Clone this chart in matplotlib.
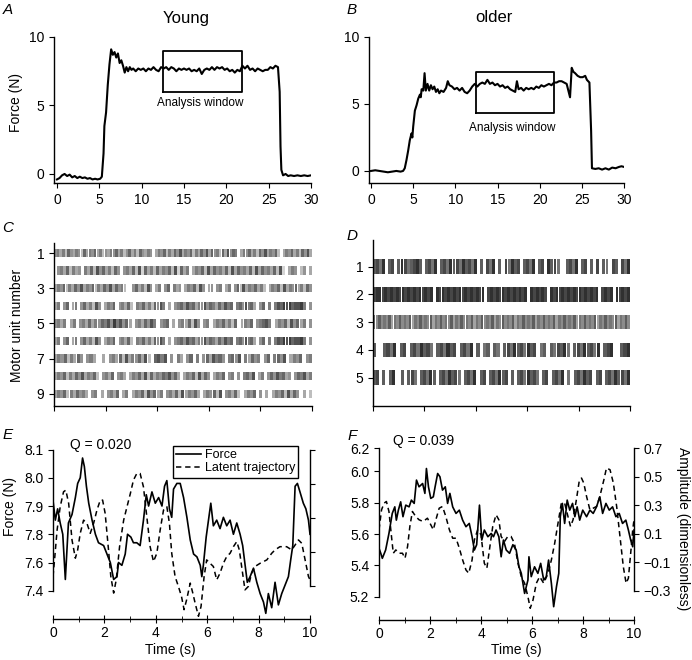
import matplotlib
matplotlib.use('Agg')
import matplotlib.pyplot as plt

plt.rcParams['font.family'] = ['Liberation Sans', 'DejaVu Sans']
plt.rcParams['font.size'] = 10
plt.rcParams['axes.linewidth'] = 1.0
plt.rcParams['xtick.major.size'] = 3.5
plt.rcParams['ytick.major.size'] = 3.5

W, H = 692, 660

# ---- data: panel A (young, whole contraction) ----
young_t = [0, 0.3, 0.6, 0.9, 1.2, 1.5, 1.8, 2.1, 2.4, 2.7, 3.0, 3.3, 3.6, 3.9, 4.2, 4.5, 4.8, 5.1,
           5.3, 5.5, 5.6, 5.8, 6.0, 6.2, 6.4, 6.6, 6.8, 7.0, 7.2, 7.4, 7.6, 7.8, 8.0, 8.2, 8.4, 8.6,
           8.8, 9.0, 9.3, 9.6, 9.9, 10.2, 10.5, 10.8, 11.1, 11.4, 11.7, 12.0, 12.3, 12.6, 12.9, 13.2,
           13.5, 13.8, 14.1, 14.4, 14.7, 15.0, 15.3, 15.6, 15.9, 16.2, 16.5, 16.8, 17.1, 17.4, 17.7,
           18.0, 18.3, 18.6, 18.9, 19.2, 19.5, 19.8, 20.1, 20.4, 20.7, 21.0, 21.3, 21.6, 21.9, 22.2,
           22.5, 22.8, 23.1, 23.4, 23.7, 24.0, 24.3, 24.6, 24.9, 25.2, 25.5, 25.8, 26.1, 26.3, 26.4,
           26.5, 26.7, 27.0, 27.3, 27.6, 28.0, 28.4, 28.8, 29.2, 29.6, 30.0]
young_f = [-0.4, -0.3, -0.1, 0.0, -0.15, -0.05, -0.25, -0.15, -0.3, -0.2, -0.3, -0.25, -0.35, -0.3,
           -0.4, -0.35, -0.4, -0.35, -0.2, 1.5, 3.5, 4.5, 6.5, 8.0, 9.1, 8.7, 8.9, 8.5, 8.8, 8.1, 8.3,
           7.9, 7.4, 7.8, 7.5, 7.8, 7.6, 7.7, 7.5, 7.7, 7.6, 7.7, 7.5, 7.7, 7.6, 7.8, 7.6, 7.5, 7.8,
           7.7, 7.8, 7.6, 7.8, 7.7, 7.5, 7.7, 7.6, 7.7, 7.6, 7.7, 7.5, 7.6, 7.5, 7.7, 7.3, 7.6, 7.7,
           7.6, 7.8, 7.6, 7.8, 7.7, 7.8, 7.6, 7.7, 7.5, 7.6, 7.4, 7.6, 7.5, 7.9, 7.7, 7.9, 7.6, 7.7,
           7.5, 7.7, 7.6, 7.5, 7.6, 7.6, 7.8, 7.7, 7.9, 7.8, 6.0, 2.0, 0.3, -0.1, 0.0, -0.15, -0.1,
           -0.15, -0.1, -0.15, -0.1, -0.15, -0.1]

# ---- data: panel B (older, whole contraction) ----
older_t = [0, 0.5, 1.0, 1.5, 2.0, 2.5, 3.0, 3.5, 3.8, 4.0, 4.2, 4.4, 4.6, 4.8, 4.9, 5.0, 5.2, 5.4,
           5.6, 5.8, 5.9, 6.0, 6.2, 6.35, 6.5, 6.7, 6.9, 7.1, 7.3, 7.5, 7.7, 7.9, 8.1, 8.3, 8.6, 8.9,
           9.1, 9.3, 9.6, 9.9, 10.2, 10.5, 10.8, 11.1, 11.4, 11.7, 12.0, 12.3, 12.6, 12.9, 13.2, 13.5,
           13.8, 14.1, 14.4, 14.7, 15.0, 15.3, 15.6, 15.9, 16.2, 16.5, 16.8, 17.1, 17.3, 17.5, 17.8,
           18.1, 18.4, 18.7, 19.0, 19.3, 19.6, 19.9, 20.2, 20.5, 20.8, 21.1, 21.4, 21.7, 22.0, 22.3,
           22.6, 22.9, 23.2, 23.6, 23.8, 24.0, 24.2, 24.5, 24.8, 25.1, 25.4, 25.6, 25.9, 26.1, 26.2,
           26.6, 27.0, 27.4, 27.8, 28.2, 28.6, 29.0, 29.4, 29.7, 30.0]
older_f = [0.0, 0.05, 0.0, -0.05, -0.1, -0.05, 0.0, -0.05, 0.0, 0.2, 0.8, 1.5, 2.3, 2.8, 2.5, 3.3,
           4.5, 4.9, 5.4, 5.7, 5.5, 6.1, 6.0, 7.3, 6.0, 6.5, 6.0, 6.4, 6.1, 6.3, 5.9, 6.1, 5.8, 6.0,
           5.9, 6.2, 6.7, 6.4, 6.3, 6.1, 6.2, 6.0, 6.2, 5.9, 5.8, 6.0, 6.3, 6.5, 6.3, 6.5, 6.6, 6.5,
           6.8, 6.5, 6.6, 6.4, 6.5, 6.3, 6.4, 6.2, 6.3, 6.1, 6.0, 5.9, 6.7, 6.1, 6.2, 6.0, 6.2, 6.1,
           6.2, 6.1, 6.3, 6.2, 6.4, 6.3, 6.4, 6.5, 6.4, 6.6, 6.6, 6.7, 6.7, 6.6, 6.5, 5.5, 7.7, 7.4,
           7.3, 7.1, 7.0, 7.0, 7.1, 6.8, 6.6, 3.0, 0.2, 0.15, 0.2, 0.1, 0.2, 0.1, 0.25, 0.2, 0.3,
           0.35, 0.3]

# analysis windows (t0, t1, f0, f1) and label positions
young_window = (12.5, 21.9, 6.0, 9.0)
older_window = (12.4, 21.7, 4.3, 7.35)
young_label = (16.9, 5.2)
older_label = (16.7, 3.2)

# ---- data: panels C and D, motor-unit discharge rasters ----
# one string per unit, each char a time bin: 0 = no discharge, 1-9 = grey density
young_units = [
    "5646375465374657463546574635746375465" "0" "4657364758465736475847563748576" "0" "465746375846573" "0" "46574637584",
    "0" "56473645" "0" "647385746375" "0" "5647382746374657382746" "0" "4657384756473847564738475647382" "0" "465" "0" "35" "0" "4",
    "4657364758465736475847563" "00" "5746385" "0" "46" "0" "57" "0" "645" "0" "4657385" "0" "45" "0" "56" "0" "46" "0" "57384657463" "0" "465738465746375",
    "46" "0" "57" "0" "46" "0" "5746385" "0" "4657" "0" "56473" "0" "6574637586" "0" "4" "0" "56758674658576475867" "0" "6758674" "0" "57" "0" "6" "0" "68798978896" "0" "5",
    "5646" "0" "46" "0" "56474657685968574" "0" "5647586" "0" "567" "0" "4" "0" "5647385" "0" "56" "0" "46574637" "0" "4657" "0" "56786" "0" "4657385746" "0" "5",
    "46" "0" "57" "0" "46" "0" "5746385" "0" "4657" "0" "56473" "0" "6574637586" "0" "4" "0" "56758674658576475867" "0" "6758674" "0" "57" "0" "6" "0" "68798978896" "0" "5",
    "465736475" "0" "564" "00" "4" "0" "5647384657483" "0" "7868" "0" "5" "0" "64" "0" "57" "0" "6" "0" "5748675" "0" "6758" "0" "64756" "0" "57" "0" "6758" "0" "4657" "0" "56",
    "465736475846573" "0" "5647" "0" "564" "0" "46574837465768574" "0" "465738475" "0" "4657" "0" "56" "0" "5" "0" "6758" "0" "46" "0" "57586745" "0" "576846",
    "46573647564" "0" "56" "0" "4" "0" "5647" "0" "46" "0" "4657385746" "0" "56473846574" "0" "465738" "0" "56473" "0" "4657" "0" "5" "0" "4" "0" "465738475" "0" "4" "0" "3",
]
older_units = [
    "7869" "0" "78" "0" "79867897" "0" "7869" "0" "786978697869" "0" "7" "0" "869" "0" "7" "0" "86978" "0" "7869" "0" "78" "0" "9786" "00" "7869" "0" "78" "0" "7" "0" "8" "0" "76" "0" "87" "0" "869",
    "899898989898989898989" "0" "98989898989898989" "0" "89898989898989" "0" "989898" "0" "98989898989898989" "0" "8989" "0" "98989",
    "6575657465756574657565746575657465756574657565746575657465756574657565746575657465756574657565746575",
    "7" "00" "7869" "0" "78" "0" "7869786" "0" "786978" "0" "7869" "0" "7" "0" "67" "0" "76" "0" "7869786978" "0" "67" "0" "768796" "0" "78697869" "0" "789" "00" "789",
    "78" "0" "7" "0" "79" "00" "7" "0" "786" "0" "78697" "0" "7869786" "0" "7869" "0" "78" "0" "786978" "0" "7" "0" "7869786" "0" "78" "0" "7869" "0" "6" "0" "786978" "0" "78" "0" "78697869",
]

# ---- data: panel E (young, 10 s analysis window) ----
young_win_t = [0, 0.09, 0.18, 0.28, 0.38, 0.48, 0.6, 0.74, 0.87, 0.96, 1.06, 1.15, 1.22, 1.3, 1.39,
               1.52, 1.65, 1.77, 1.97, 2.1, 2.23, 2.36, 2.49, 2.55, 2.68, 2.81, 2.9, 3.03, 3.13, 3.26,
               3.39, 3.52, 3.63, 3.72, 3.85, 3.98, 4.11, 4.24, 4.34, 4.43, 4.53, 4.62, 4.69, 4.82,
               4.95, 5.08, 5.21, 5.34, 5.47, 5.6, 5.73, 5.79, 5.85, 5.96, 6.05, 6.14, 6.24, 6.37, 6.5,
               6.63, 6.76, 6.89, 7.02, 7.15, 7.28, 7.38, 7.49, 7.56, 7.67, 7.8, 7.93, 8.06, 8.19, 8.28,
               8.38, 8.51, 8.64, 8.77, 8.9, 9.03, 9.16, 9.25, 9.33, 9.42, 9.51, 9.61, 9.74, 9.84, 9.94,
               10.0]
young_win_f = [7.92, 7.85, 7.89, 7.84, 7.80, 7.64, 7.84, 7.87, 7.93, 7.98, 8.0, 8.07, 8.04, 7.97,
               7.91, 7.85, 7.80, 7.77, 7.76, 7.73, 7.70, 7.64, 7.65, 7.70, 7.69, 7.73, 7.80, 7.79,
               7.77, 7.77, 7.76, 7.85, 7.94, 7.90, 7.95, 7.91, 7.93, 7.90, 7.97, 7.99, 7.89, 7.86,
               7.96, 7.98, 7.98, 7.93, 7.86, 7.78, 7.73, 7.72, 7.69, 7.65, 7.69, 7.79, 7.85, 7.91,
               7.83, 7.85, 7.82, 7.86, 7.83, 7.85, 7.80, 7.84, 7.80, 7.76, 7.68, 7.63, 7.65, 7.68,
               7.63, 7.59, 7.56, 7.52, 7.59, 7.54, 7.63, 7.55, 7.59, 7.62, 7.65, 7.71, 7.76, 7.97,
               7.98, 7.95, 7.91, 7.89, 7.85, 7.80]
young_lat_t = [0, 0.06, 0.16, 0.28, 0.41, 0.5, 0.61, 0.74, 0.87, 0.96, 1.06, 1.19, 1.32, 1.45, 1.58,
               1.71, 1.84, 1.93, 2.03, 2.16, 2.25, 2.36, 2.46, 2.59, 2.75, 2.88, 3.01, 3.13, 3.26,
               3.39, 3.52, 3.65, 3.78, 3.91, 4.04, 4.17, 4.3, 4.43, 4.53, 4.62, 4.75, 4.88, 5.0, 5.1,
               5.2, 5.34, 5.44, 5.53, 5.66, 5.76, 5.88, 5.98, 6.11, 6.24, 6.37, 6.5, 6.63, 6.76, 6.89,
               7.02, 7.15, 7.25, 7.34, 7.47, 7.6, 7.73, 7.86, 8.06, 8.32, 8.51, 8.64, 8.83, 9.09, 9.29,
               9.42, 9.55, 9.68, 9.81, 9.94, 10.0]
young_lat_a = [-0.345, -0.247, -0.07, 0.067, 0.155, 0.165, 0.086, -0.13, -0.237, -0.188, -0.09,
               -0.012, -0.031, -0.09, -0.031, 0.047, 0.106, 0.106, 0.027, -0.188, -0.345, -0.443,
               -0.365, -0.169, -0.012, 0.067, 0.145, 0.224, 0.263, 0.263, 0.184, 0.008, -0.169,
               -0.257, -0.208, -0.07, 0.047, 0.067, -0.031, -0.208, -0.345, -0.404, -0.463, -0.541,
               -0.482, -0.384, -0.443, -0.502, -0.58, -0.522, -0.345, -0.247, -0.267, -0.286,
               -0.365, -0.325, -0.267, -0.227, -0.208, -0.169, -0.139, -0.188, -0.286, -0.424,
               -0.404, -0.325, -0.286, -0.267, -0.247, -0.208, -0.188, -0.169, -0.169, -0.188,
               -0.159, -0.129, -0.149, -0.247, -0.345, -0.365]

# ---- data: panel F (older, 10 s analysis window) ----
older_win_t = [0, 0.07, 0.13, 0.26, 0.39, 0.52, 0.62, 0.68, 0.76, 0.85, 0.94, 1.05, 1.18, 1.27,
               1.38, 1.47, 1.57, 1.71, 1.8, 1.86, 1.94, 2.03, 2.13, 2.2, 2.3, 2.39, 2.49, 2.6, 2.69,
               2.78, 2.89, 3.02, 3.15, 3.28, 3.41, 3.54, 3.65, 3.74, 3.83, 3.94, 4.03, 4.13, 4.27,
               4.4, 4.49, 4.59, 4.7, 4.79, 4.88, 4.99, 5.12, 5.25, 5.38, 5.49, 5.58, 5.71, 5.84, 5.88,
               5.97, 6.1, 6.23, 6.34, 6.46, 6.56, 6.65, 6.76, 6.85, 6.96, 7.05, 7.11, 7.19, 7.28, 7.38,
               7.48, 7.59, 7.68, 7.77, 7.87, 7.99, 8.14, 8.27, 8.4, 8.53, 8.66, 8.77, 8.9, 9.03, 9.16,
               9.29, 9.42, 9.55, 9.68, 9.78, 9.87, 9.95, 10.0]
older_win_f = [5.509, 5.477, 5.445, 5.498, 5.604, 5.732, 5.774, 5.689, 5.753, 5.806, 5.711, 5.785,
               5.774, 5.817, 5.796, 5.945, 5.902, 5.923, 5.86, 6.019, 5.902, 5.828, 5.838, 5.902,
               5.987, 5.966, 5.881, 5.902, 5.796, 5.86, 5.774, 5.732, 5.753, 5.689, 5.647, 5.668,
               5.583, 5.498, 5.532, 5.785, 5.562, 5.626, 5.583, 5.604, 5.583, 5.626, 5.583, 5.455,
               5.562, 5.498, 5.477, 5.532, 5.498, 5.391, 5.349, 5.221, 5.306, 5.455, 5.328, 5.391,
               5.349, 5.413, 5.306, 5.328, 5.434, 5.285, 5.136, 5.264, 5.349, 5.711, 5.796, 5.668,
               5.817, 5.753, 5.796, 5.711, 5.774, 5.689, 5.753, 5.711, 5.753, 5.732, 5.774, 5.838,
               5.732, 5.796, 5.753, 5.774, 5.711, 5.732, 5.668, 5.689, 5.626, 5.562, 5.519, 5.626]
older_lat_t = [0, 0.1, 0.2, 0.29, 0.39, 0.49, 0.56, 0.66, 0.79, 0.92, 1.02, 1.12, 1.21, 1.31, 1.44,
               1.57, 1.73, 1.9, 2.03, 2.13, 2.23, 2.36, 2.49, 2.62, 2.76, 2.89, 3.02, 3.15, 3.28,
               3.41, 3.52, 3.65, 3.74, 3.87, 4.0, 4.13, 4.23, 4.33, 4.46, 4.59, 4.7, 4.79, 4.92, 5.05,
               5.18, 5.31, 5.45, 5.58, 5.71, 5.84, 5.93, 6.04, 6.17, 6.3, 6.46, 6.63, 6.76, 6.89, 7.02,
               7.15, 7.28, 7.41, 7.51, 7.61, 7.74, 7.85, 7.94, 8.03, 8.14, 8.27, 8.4, 8.53, 8.66, 8.82,
               8.92, 9.06, 9.19, 9.32, 9.45, 9.58, 9.69, 9.78, 9.87, 9.95, 10.0]
older_lat_a = [0.128, 0.268, 0.314, 0.326, 0.256, 0.081, -0.036, -0.013, -0.036, -0.036, -0.071,
               0.011, 0.151, 0.256, 0.221, 0.198, 0.186, 0.209, 0.163, 0.128, 0.198, 0.279, 0.291,
               0.221, 0.128, 0.069, 0.069, -0.001, -0.083, -0.153, -0.176, -0.083, 0.057, 0.128,
               0.093, -0.106, -0.141, -0.013, 0.151, 0.233, 0.198, 0.081, 0.046, 0.081, 0.081, 0.034,
               -0.106, -0.2, -0.246, -0.34, -0.421, -0.363, -0.246, -0.2, -0.246, -0.176, -0.083,
               0.034, 0.174, 0.314, 0.314, 0.221, 0.151, 0.198, 0.338, 0.466, 0.49, 0.455, 0.361,
               0.268, 0.279, 0.291, 0.361, 0.478, 0.56, 0.548, 0.455, 0.291, 0.081, -0.129, -0.246,
               -0.211, -0.036, 0.128, 0.198]

# tick labels as printed in the original figure
young_win_ticks = [7.6, 7.7, 7.8, 7.9, 8.0, 8.1]
young_win_ticklabels = ['7.4', '7.6', '7.8', '7.9', '8.0', '8.1']
older_win_ticks = [5.2, 5.4, 5.6, 5.8, 6.0, 6.15]
older_win_ticklabels = ['5.2', '5.4', '5.6', '5.8', '6.0', '6.2']
amp_ticks = [-0.3, -0.1, 0.1, 0.3, 0.5, 0.7]
amp_ticklabels = ['\u22120.3', '\u22120.1', '0.1', '0.3', '0.5', '0.7']


def add_ax(left, top, right, bottom):
    # axes box given in pixels of the 692x660 figure
    return fig.add_axes([left / W, 1 - bottom / H, (right - left) / W, (bottom - top) / H])


def simple_spines(ax):
    ax.spines['top'].set_visible(False)
    ax.spines['right'].set_visible(False)


def raster(ax, units, bar_h, dark):
    for k, row in enumerate(units):
        n = len(row)
        xs, cols = [], []
        for i, ch in enumerate(row):
            if ch != '0':
                xs.append(i * 100.0 / n)
                g = 1 - dark * int(ch)
                cols.append((g, g, g))
        ax.bar(xs, bar_h, width=0.96 * 100.0 / n, bottom=k + 1 - bar_h / 2,
               align='edge', color=cols, linewidth=0)


fig = plt.figure(figsize=(W / 100, H / 100), dpi=100)

# ---- A ----
axA = add_ax(54, 37, 311, 183)
axA.plot(young_t, young_f, color='black', lw=1.5)
t0, t1, f0, f1 = young_window
axA.plot([t0, t1, t1, t0, t0], [f0, f0, f1, f1, f0], color='black', lw=1.3)
axA.text(young_label[0], young_label[1], 'Analysis window', ha='center', va='center', fontsize=8.5)
axA.set_xlim(-0.35, 30)
axA.set_ylim(-0.66, 10)
axA.set_xticks([0, 5, 10, 15, 20, 25, 30])
axA.set_yticks([0, 5, 10])
simple_spines(axA)

# ---- B ----
axB = add_ax(369, 37, 624, 183)
axB.plot(older_t, older_f, color='black', lw=1.5)
t0, t1, f0, f1 = older_window
axB.plot([t0, t1, t1, t0, t0], [f0, f0, f1, f1, f0], color='black', lw=1.3)
axB.text(older_label[0], older_label[1], 'Analysis window', ha='center', va='center', fontsize=8.5)
axB.set_xlim(-0.24, 30)
axB.set_ylim(-0.9, 10)
axB.set_xticks([0, 5, 10, 15, 20, 25, 30])
axB.set_yticks([0, 5, 10])
simple_spines(axB)

# ---- C ----
axC = add_ax(54, 243, 312, 406)
raster(axC, young_units, 0.48, 0.085)
axC.set_xlim(0, 100)
axC.set_ylim(9.69, 0.43)
axC.set_xticks([0, 20, 40, 60, 80, 100])
axC.set_xticklabels([])
axC.set_yticks([1, 3, 5, 7, 9])
simple_spines(axC)

# ---- D ----
axD = add_ax(373, 240, 630, 406)
raster(axD, older_units, 0.52, 0.09)
axD.set_xlim(0, 100)
axD.set_ylim(6.02, 0.04)
axD.set_xticks([0, 20, 40, 60, 80, 100])
axD.set_xticklabels([])
axD.set_yticks([1, 2, 3, 4, 5])
simple_spines(axD)

# ---- E ----
axE = add_ax(53, 447, 310, 619)
lE1, = axE.plot(young_win_t, young_win_f, color='black', lw=1.2)
axE.set_xlim(0, 10)
axE.set_ylim(7.5, 8.109)
axE.set_yticks(young_win_ticks)
axE.set_yticklabels(young_win_ticklabels)
axE.spines['left'].set_bounds(7.6, 8.1)
axE2 = axE.twinx()
lE2, = axE2.plot(young_lat_t, young_lat_a, color='black', lw=1.1, ls=(0, (3.5, 2.5)))
axE2.set_ylim(-0.596, 0.4196)
axE2.set_yticks([-0.4, -0.2, 0.0, 0.2, 0.4])
axE2.set_yticklabels([])
axE2.spines['right'].set_bounds(-0.4, 0.4)
axE2.legend([lE1, lE2], ['Force', 'Latent trajectory'], loc='upper left',
            bbox_to_anchor=(173 / W, 1 - 446 / H), bbox_transform=fig.transFigure,
            fancybox=False, edgecolor='black', framealpha=1, fontsize=9, borderpad=0.25,
            labelspacing=0.1, handlelength=2.0, handletextpad=0.3, borderaxespad=0)

# ---- F ----
axF = add_ax(379, 448, 634, 620)
axF.plot(older_win_t, older_win_f, color='black', lw=1.2)
axF.set_xlim(0, 10)
axF.set_ylim(5.051, 6.147)
axF.set_yticks(older_win_ticks)
axF.set_yticklabels(older_win_ticklabels)
axF.spines['left'].set_bounds(5.2, 6.147)
axF2 = axF.twinx()
axF2.plot(older_lat_t, older_lat_a, color='black', lw=1.1, ls=(0, (3.5, 2.5)))
axF2.set_ylim(-0.503, 0.7)
axF2.set_yticks(amp_ticks)
axF2.set_yticklabels(amp_ticklabels)
axF2.spines['right'].set_bounds(-0.3, 0.7)

for ax in (axE, axF):
    ax.set_xticks([0, 2, 4, 6, 8, 10])
    ax.set_xticks([1, 3, 5, 7, 9], minor=True)
    ax.tick_params(axis='x', which='major', direction='inout', length=6, pad=2)
    ax.tick_params(axis='x', which='minor', direction='inout', length=4)
for ax in (axE, axE2, axF, axF2):
    ax.spines['top'].set_visible(False)
axE.spines['right'].set_visible(False)
axF.spines['right'].set_visible(False)
axE2.spines['left'].set_visible(False)
axF2.spines['left'].set_visible(False)
axE2.spines['bottom'].set_visible(False)
axF2.spines['bottom'].set_visible(False)

# ---- texts ----
fig.text(186 / W, 1 - 18 / H, 'Young', ha='center', va='center', fontsize=12)
fig.text(494 / W, 1 - 18 / H, 'older', ha='center', va='center', fontsize=12)
fig.text(16 / W, 1 - 103 / H, 'Force (N)', rotation=90, ha='center', va='center')
fig.text(17 / W, 1 - 325 / H, 'Motor unit number', rotation=90, ha='center', va='center')
fig.text(10 / W, 1 - 506 / H, 'Force (N)', rotation=90, ha='center', va='center')
fig.text(683 / W, 1 - 529 / H, 'Amplitude (dimensionless)', rotation=270, ha='center', va='center')
fig.text(170 / W, 1 - 650 / H, 'Time (s)', ha='center', va='center')
fig.text(516 / W, 1 - 650 / H, 'Time (s)', ha='center', va='center')
fig.text(70 / W, 1 - 445 / H, 'Q = 0.020', ha='left', va='center')
fig.text(393 / W, 1 - 441 / H, 'Q = 0.039', ha='left', va='center')
for letter, x, y in [('A', 8, 10), ('B', 352, 10), ('C', 8, 228), ('D', 352, 236),
                     ('E', 8, 435), ('F', 352, 436)]:
    fig.text(x / W, 1 - y / H, letter, style='italic', ha='center', va='center', fontsize=11)

fig.savefig('out.png', dpi=100)
